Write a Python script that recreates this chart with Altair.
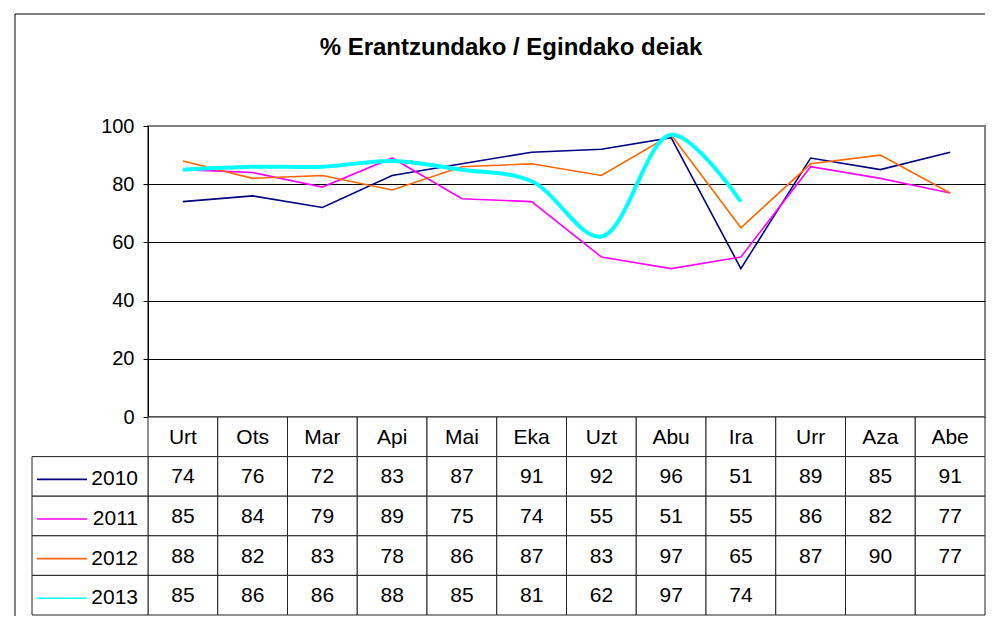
import altair as alt
import pandas as pd

months = ["Urt", "Ots", "Mar", "Api", "Mai", "Eka", "Uzt", "Abu", "Ira", "Urr", "Aza", "Abe"]
years = ["2010", "2011", "2012", "2013"]
v2010 = [74, 76, 72, 83, 87, 91, 92, 96, 51, 89, 85, 91]
v2011 = [85, 84, 79, 89, 75, 74, 55, 51, 55, 86, 82, 77]
v2012 = [88, 82, 83, 78, 86, 87, 83, 97, 65, 87, 90, 77]
v2013 = [85, 86, 86, 88, 85, 81, 62, 97, 74, None, None, None]
colors = ["#000080", "#FF00FF", "#FF6600", "#00FFFF"]
y_ticks = [0, 20, 40, 60, 80, 100]
title_text = "% Erantzundako / Egindako deiak"

series = {"2010": v2010, "2011": v2011, "2012": v2012, "2013": v2013}

line_rows = []
for yr, vals in series.items():
    for m, v in zip(months, vals):
        if v is not None:
            line_rows.append({"year": yr, "month": m, "value": v})
line_df = pd.DataFrame(line_rows)

tbl_rows = ["hdr"] + years
cells = []
for i, m in enumerate(months):
    cells.append({"month": m, "row": "hdr", "text": m})
    for yr, vals in series.items():
        v = vals[i]
        cells.append({"month": m, "row": yr, "text": "" if v is None else str(v)})
cells_df = pd.DataFrame(cells)
leg_df = pd.DataFrame({"year": years, "row": years})
one_df = pd.DataFrame({"a": [0]})

FONT = "Liberation Sans"
W, H, TH = 837, 291, 198

color_enc = alt.Color("year:N", scale=alt.Scale(domain=years, range=colors), legend=None)

x_enc = alt.X("month:N", sort=months,
              scale=alt.Scale(type="point", padding=0.5, domain=months), axis=None)
y_enc = alt.Y("value:Q",
              scale=alt.Scale(domain=[0, 100], nice=False, zero=True),
              axis=alt.Axis(values=y_ticks, title=None, grid=True,
                            gridColor=alt.condition("datum.value === 100", alt.value("#808080"), alt.value("black")),
                            gridWidth=1, domainColor="black", tickColor="black", tickSize=5,
                            labelFont=FONT, labelFontSize=20, labelColor="black", labelPadding=9))

base = alt.Chart(line_df).encode(x=x_enc, y=y_enc, color=color_enc)
lines = base.mark_line(strokeWidth=1.6).transform_filter("datum.year !== '2013'")
smooth = base.mark_line(strokeWidth=4, interpolate="catmull-rom").transform_filter("datum.year === '2013'")

border_top = alt.Chart(one_df).mark_rule(color="black", strokeWidth=1).encode(
    x=alt.value(-133), x2=alt.value(837), y=alt.value(-112))
border_left = alt.Chart(one_df).mark_rule(color="black", strokeWidth=1).encode(
    x=alt.value(-133), y=alt.value(-112), y2=alt.value(490))

top = alt.layer(lines, smooth, border_top, border_left).properties(
    width=W, height=H, view=alt.ViewBackground(stroke="#808080", strokeWidth=2))

tx = alt.X("month:N", sort=months, scale=alt.Scale(domain=months, paddingInner=0, paddingOuter=0), axis=None)
ty = alt.Y("row:N", sort=tbl_rows, scale=alt.Scale(domain=tbl_rows, paddingInner=0, paddingOuter=0), axis=None)
ty_c = alt.Y("row:N", sort=tbl_rows, scale=alt.Scale(domain=tbl_rows, paddingInner=0, paddingOuter=0), axis=None, bandPosition=0.5)
tx_c = alt.X("month:N", sort=months, scale=alt.Scale(domain=months, paddingInner=0, paddingOuter=0), axis=None, bandPosition=0.5)

cell_rect = alt.Chart(cells_df).mark_rect(fill="white", stroke="#222222", strokeWidth=1).encode(x=tx, y=ty)
cell_text = alt.Chart(cells_df).mark_text(font=FONT, fontSize=21, color="black", dy=1).encode(
    x=tx_c, y=ty_c, text="text:N")
leg_rect = alt.Chart(leg_df).mark_rect(fill="white", stroke="#222222", strokeWidth=1).encode(
    x=alt.value(-116), x2=alt.value(0), y=ty)
leg_rule = alt.Chart(leg_df).mark_rule(yOffset=3).encode(
    x=alt.value(-111), x2=alt.value(-61), y=ty_c, color=color_enc,
    strokeWidth=alt.StrokeWidth("year:N", scale=alt.Scale(domain=years, range=[1.6, 1.6, 1.6, 4]), legend=None))
leg_text = alt.Chart(leg_df).mark_text(font=FONT, fontSize=21, color="black", align="right", dy=3).encode(
    x=alt.value(-10), y=ty_c, text="year:N")

table = alt.layer(cell_rect, cell_text, leg_rect, leg_rule, leg_text).properties(width=W, height=TH)

chart = alt.vconcat(top, table, spacing=0, bounds="flush").properties(
    title=alt.TitleParams(title_text, font=FONT, fontSize=24, fontWeight="bold", color="black",
                          anchor="middle", offset=-47, dx=11),
    padding={"left": 5, "top": 4, "right": 0, "bottom": 0},
    background="white",
).configure_view(stroke="transparent")

chart.save("out.html", embed_options={"renderer": "svg", "actions": False})
